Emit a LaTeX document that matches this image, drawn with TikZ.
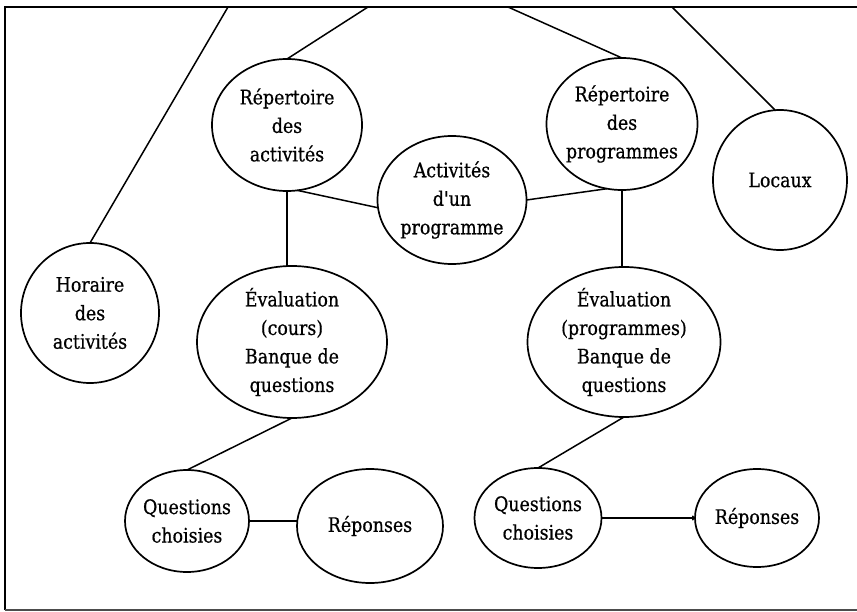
\documentclass[tikz,border=0pt]{standalone}
\usepackage{fontspec}
\newfontfamily\lblfont{DejaVu Serif}[FakeBold=0.6, FakeStretch=0.87]
\usetikzlibrary{shapes.geometric,arrows.meta}
\tikzset{
  bubble/.style 2 args={draw, ellipse, line width=1.7pt,
    minimum width=#1, minimum height=#2, inner sep=0pt, outer sep=0pt},
  txt/.style={align=center, inner sep=0pt,
    font=\lblfont\fontsize{20}{28.5}\selectfont},
  link/.style={line width=1.5pt},
}
\begin{document}
\begin{tikzpicture}[x=1pt, y=-1pt]
\useasboundingbox (0,0) rectangle (857,612);

% frame
\draw[line width=2.6pt] (5,610) -- (5,7) -- (857,7);
\draw[line width=1.3pt, black!70] (5,610) -- (857,610);

% entities
\node[bubble={150pt}{132pt}, label={[txt]center:{Répertoire\\des\\activités}}] (ra) at (287,125) {};
\node[bubble={151pt}{132pt}, label={[txt]center:{Répertoire\\des\\programmes}}] (rp) at (622,124) {};
\node[bubble={134pt}{140pt}, label={[txt]center:{Locaux}}] (lo) at (780,180) {};
\node[bubble={149pt}{128pt}, label={[txt]center:{Activités\\d'un\\programme}}] (ac) at (452,200) {};
\node[bubble={138pt}{140pt}, label={[txt]center:{Horaire\\des\\activités}}] (ho) at (90,313) {};
\node[bubble={190pt}{152pt}, label={[txt]center:{Évaluation\\(cours)\\Banque de\\questions}}] (ec) at (292,342) {};
\node[bubble={193pt}{150pt}, label={[txt]center:{Évaluation\\(programmes)\\Banque de\\questions}}] (ep) at (624,342) {};
\node[bubble={124pt}{102pt}, label={[txt]center:{Questions\\choisies}}] (q1) at (187,521) {};
\node[bubble={146pt}{114pt}, label={[txt]center:{Réponses}}] (r1) at (370,526) {};
\node[bubble={127pt}{100pt}, label={[txt]center:{Questions\\choisies}}] (q2) at (538,518) {};
\node[bubble={124pt}{98pt}, label={[txt]center:{Réponses}}] (r2) at (757,518) {};

% free ends on the top edge of the frame
\coordinate (t1) at (228,7);
\coordinate (t2) at (368,7);
\coordinate (t3) at (508,7);
\coordinate (t4) at (672,7);

% connectors
\draw[link] (t1) -- (ho.north);
\draw[link] (t2) -- (ra.north);
\draw[link] (t3) -- (rp.north);
\draw[link] (t4) -- (lo.94);
\draw[link] (ra.south) -- (ra.south |- ec.north);
\draw[link] (ra.-81) -- (ac.186);
\draw[link] (ac.east) -- (rp.-103);
\draw[link] (rp.south) -- (rp.south |- ep.north);
\draw[link] (ec.south) -- (q1.north);
\draw[link] (q1.east) -- (q1.east -| r1.west);
\draw[link] (ep.south) -- (q2.north);
\draw[link, -{To[length=3pt,width=5pt]}] (q2.east) -- (q2.east -| r2.west);
\end{tikzpicture}
\end{document}
